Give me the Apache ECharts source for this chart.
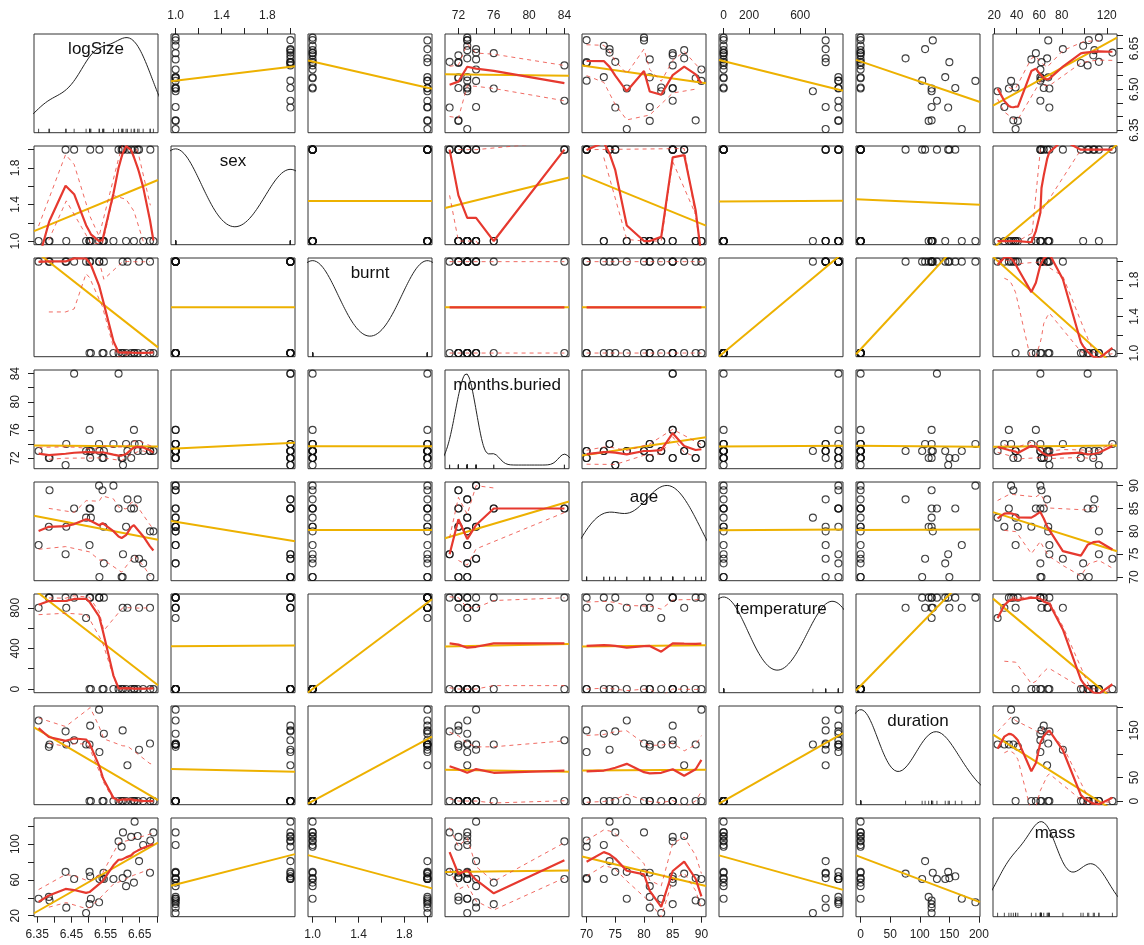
<!DOCTYPE html>
<html><head><meta charset="utf-8">
<script src="https://cdn.jsdelivr.net/npm/echarts@6/dist/echarts.min.js"></script>
<style>html,body{margin:0;padding:0;background:#fff}#c{width:1144px;height:945px}</style>
</head><body><div id="c"></div>
<script>
// ---------------- DATA (32 specimens: 16 burnt / unburnt pairs) ----------------
const varNames = ['logSize','sex','burnt','months.buried','age','temperature','duration','mass'];
const logSize = [6.648,6.635, 6.614,6.644, 6.600,6.597, 6.532,6.681, 6.458,6.588, 6.505,6.625, 6.433,6.601,
                 6.493,6.507, 6.435,6.610, 6.503,6.633, 6.354,6.503, 6.680,6.690, 6.545,6.660, 6.531,6.573,
                 6.386,6.541, 6.384,6.544];
const sex = [2,2, 2,2, 2,2, 2,2, 2,2, 2,2, 2,2, 1,1, 1,1, 1,1, 1,1, 1,1, 1,1, 1,1, 1,1, 1,1];
const burnt = [2,1, 2,1, 2,1, 2,1, 2,1, 2,1, 2,1, 2,1, 2,1, 2,1, 2,1, 2,1, 2,1, 2,1, 2,1, 2,1];
const monthsBuried = [74,74, 73,73, 72,72, 73,73, 84,84, 72,72, 71,71, 73,73, 74,74, 76,76, 73,73, 73,73, 73,73, 74,74, 72,72, 72,72];
const age = [74,74, 87,87, 70,70, 70,70, 85,85, 85,85, 75,75, 83,83, 81,81, 85,85, 77,77, 80,80, 73,73, 90,90, 89,89, 81,81];
const temperature = [800,0, 800,0, 800,0, 900,0, 900,0, 900,0, 900,0, 700,0, 800,0, 900,0, 800,0, 800,0, 900,0, 900,0, 900,0, 900,0];
const duration = [109,0, 76,0, 150,0, 104,0, 129,0, 160,0, 148,0, 120,0, 120,0, 120,0, 171,0, 122,0, 143,0, 194,0, 120,0, 115,0];
const mass = [81,125, 67,109, 62,97, 61,104, 61,103, 64,108, 69,113, 23,39, 29,53, 33,57, 39,69, 68,113, 61,99, 35,61, 37,62, 41,68];

// tick positions and labelled values
const logSizeTicks = [6.35,6.40,6.45,6.50,6.55,6.60,6.65,6.70];
const binTicks = [1.0,1.2,1.4,1.6,1.8,2.0];
const monthsTicks = [72,74,76,78,80,82,84];
const ageTicks = [70,75,80,85,90];
const temperatureTicks = [0,200,400,600,800];
const durationTicks = [0,50,100,150,200];
const massTicks = [20,40,60,80,100,120];
const horizLabels = [[6.35,6.45,6.55,6.65],[1.0,1.4,1.8],[1.0,1.4,1.8],[72,76,80,84],[70,75,80,85,90],[0,200,600],[0,50,100,150,200],[20,40,60,80,120]];
const vertLabels  = [[6.35,6.50,6.65],[1.0,1.4,1.8],[1.0,1.4,1.8],[72,76,80,84],[70,75,80,85,90],[0,400,800],[0,50,150],[20,60,100]];

// ---------------- helpers ----------------
const vars = [logSize, sex, burnt, monthsBuried, age, temperature, duration, mass];
const tickVals = [logSizeTicks, binTicks, binTicks, monthsTicks, ageTicks, temperatureTicks, durationTicks, massTicks];
const decimals = [2,1,1,0,0,0,0,0];
const smoothCols = [0,3,4,7];   // columns where the loess smoother could be fitted
const FONT = '"Liberation Sans", Arial, Helvetica, sans-serif';
const YEL = '#EDB100', RED = '#E6392F', REDL = 'rgba(236,70,60,0.8)';
const L0 = 34, DX = 137, W = 124, T0 = 34, DY = 112, H = 98.7;

const rng = vars.map(v => { const lo = Math.min(...v), hi = Math.max(...v), p = (hi - lo) * 0.04; return [lo - p, hi + p]; });
const fmt = (vi, val) => decimals[vi] > 0 ? Number(val).toFixed(decimals[vi]) : String(Math.round(val));

function quantile7(s, p) { const h = (s.length - 1) * p, lo = Math.floor(h); return s[lo] + (h - lo) * ((s[Math.min(lo + 1, s.length - 1)]) - s[lo]); }
function kdeLine(v) {
  const n = v.length, m = v.reduce((a, b) => a + b, 0) / n;
  const sd = Math.sqrt(v.reduce((a, b) => a + (b - m) * (b - m), 0) / (n - 1));
  const s = v.slice().sort((a, b) => a - b);
  let lo = Math.min(sd, (quantile7(s, 0.75) - quantile7(s, 0.25)) / 1.34);
  if (!lo) lo = sd || Math.abs(s[0]) || 1;
  const bw = 0.9 * lo * Math.pow(n, -0.2);
  const a = s[0] - 3 * bw, b = s[n - 1] + 3 * bw, pts = [];
  for (let k = 0; k < 512; k++) {
    const g = a + (b - a) * k / 511; let d = 0;
    for (const x of v) { const z = (g - x) / bw; d += Math.exp(-0.5 * z * z); }
    pts.push([g, d / (n * bw * Math.sqrt(2 * Math.PI))]);
  }
  const ds = pts.map(p => p[1]), dmin = Math.min(...ds), dmax = Math.max(...ds);
  const xr = s[n - 1] - s[0];
  return pts.map(p => [p[0], s[0] + p[1] * xr / (dmax - dmin)]);
}
function solve3(A, b) {
  const M = A.map((row, i) => row.concat([b[i]]));
  for (let i = 0; i < 3; i++) {
    let p = i; for (let k = i + 1; k < 3; k++) if (Math.abs(M[k][i]) > Math.abs(M[p][i])) p = k;
    [M[i], M[p]] = [M[p], M[i]];
    if (Math.abs(M[i][i]) < 1e-10) return null;
    for (let k = i + 1; k < 3; k++) { const f = M[k][i] / M[i][i]; for (let j = i; j < 4; j++) M[k][j] -= f * M[i][j]; }
  }
  const x = [0, 0, 0];
  for (let i = 2; i >= 0; i--) { let s = M[i][3]; for (let j = i + 1; j < 3; j++) s -= M[i][j] * x[j]; x[i] = s / M[i][i]; }
  return x;
}
// local weighted polynomial fit at x0: returns value and slope
function localFit(xs, ys, rw, span, degree, x0) {
  const n = xs.length, q = Math.max(1, Math.min(n, Math.floor(n * span)));
  const d = xs.map(x => Math.abs(x - x0)), s = d.slice().sort((a, b) => a - b);
  let h = s[q - 1]; if (!(h > 0)) h = 1e-9;
  let S0 = 0, S1 = 0, S2 = 0, S3 = 0, S4 = 0, T0y = 0, T1 = 0, T2 = 0;
  for (let i = 0; i < n; i++) {
    const r = d[i] / h; if (r >= 0.999) continue;
    const w = Math.pow(1 - r * r * r, 3) * rw[i]; if (w <= 0) continue;
    const dx = (xs[i] - x0) / h, y = ys[i];
    S0 += w; S1 += w * dx; S2 += w * dx * dx; S3 += w * dx * dx * dx; S4 += w * dx * dx * dx * dx;
    T0y += w * y; T1 += w * dx * y; T2 += w * dx * dx * y;
  }
  if (S0 <= 0) return { v: NaN, s: 0 };
  if (degree >= 2) {
    const sol = solve3([[S0, S1, S2], [S1, S2, S3], [S2, S3, S4]], [T0y, T1, T2]);
    if (sol && isFinite(sol[0])) return { v: sol[0], s: sol[1] / h };
  }
  if (degree >= 1) {
    const det = S0 * S2 - S1 * S1;
    if (Math.abs(det) > 1e-9 * S0 * S0) return { v: (S2 * T0y - S1 * T1) / det, s: (S0 * T1 - S1 * T0y) / det / h };
  }
  return { v: T0y / S0, s: 0 };
}
// kd-tree vertices (1-D) as used by loess' interpolation surface
function kdVertices(xs, span) {
  const s = xs.slice().sort((a, b) => a - b), n = s.length, fc = Math.floor(n * span * 0.2);
  const lo = s[0], hi = s[n - 1];
  const mu = 0.005 * Math.max(hi - lo, 1e-10 * Math.max(Math.abs(lo), Math.abs(hi)) + 1e-30);
  const verts = [lo - mu, hi + mu];
  const rec = (l, u, vlo, vhi) => {
    if (u - l + 1 <= fc) return;
    let m = Math.floor((l + u) / 2), off = 0;
    while (m + off < u && m + off >= l) {
      if (s[m + off] === s[m + off + 1]) { off = -off; if (off >= 0) off += 1; }
      else { m = m + off; break; }
    }
    const xi = s[m];
    if (xi === vlo || xi === vhi) return;
    verts.push(xi);
    rec(l, m, vlo, xi); rec(m + 1, u, xi, vhi);
  };
  rec(0, n - 1, verts[0], verts[1]);
  return verts.sort((a, b) => a - b);
}
function hermite(verts, vf, x) {
  const k = verts.length;
  if (x < verts[0] || x > verts[k - 1]) return NaN;
  let j = 0; while (j < k - 2 && x > verts[j + 1]) j++;
  const x0 = verts[j], x1 = verts[j + 1], hh = x1 - x0, t = (x - x0) / hh;
  const f0 = vf[j].v, f1 = vf[j + 1].v, d0 = vf[j].s, d1 = vf[j + 1].s;
  return (1 - t) * (1 - t) * (1 + 2 * t) * f0 + t * t * (3 - 2 * t) * f1 + (t * (1 - t) * (1 - t) * d0 - t * t * (1 - t) * d1) * hh;
}
function median(a) { const s = a.slice().sort((x, y) => x - y), n = s.length; return n % 2 ? s[(n - 1) / 2] : (s[n / 2 - 1] + s[n / 2]) / 2; }
function loess(xs, ys, span, degree, iters) {
  const verts = kdVertices(xs, span);
  let rw = xs.map(() => 1), fitted = null;
  for (let it = 0; it < iters; it++) {
    const vf = verts.map(v => localFit(xs, ys, rw, span, degree, v));
    fitted = xs.map(x => hermite(verts, vf, x));
    if (it === iters - 1) break;
    const res = ys.map((y, i) => Math.abs(y - fitted[i])), c = 6 * median(res);
    rw = c < 1e-300 ? res.map(() => 1) : res.map(u => u > 0.999 * c ? 0 : (u > 0.001 * c ? Math.pow(1 - (u / c) * (u / c), 2) : 1));
  }
  return fitted;
}
function sortedLine(xs, ys) {
  const idx = xs.map((x, i) => i).sort((a, b) => xs[a] - xs[b]);
  const out = []; idx.forEach(i => { if (isFinite(ys[i])) out.push([xs[i], ys[i]]); });
  return out;
}

// ---------------- build option ----------------
const grids = [], xAxes = [], yAxes = [], series = [], graphics = [];
function axisDef(g, vi, isX, show, pos) {
  return {
    gridIndex: g, type: 'value', position: pos, min: rng[vi][0], max: rng[vi][1],
    axisLine: { show: false, onZero: false }, splitLine: { show: false },
    axisTick: { show: show, inside: false, length: 6, customValues: tickVals[vi], lineStyle: { color: '#222', width: 1 } },
    axisLabel: { show: show, customValues: (isX ? horizLabels : vertLabels)[vi], formatter: val => fmt(vi, val),
      margin: 12, rotate: isX ? 0 : 90, fontSize: 12, color: '#222', fontFamily: FONT }
  };
}
for (let r = 0; r < 8; r++) for (let c = 0; c < 8; c++) {
  const g = r * 8 + c;
  grids.push({ left: L0 + DX * c, top: T0 + DY * r, width: W, height: H, show: true, borderColor: '#333', borderWidth: 1,
    backgroundColor: 'transparent', containLabel: false, outerBoundsMode: 'none' });
  const showX = (c % 2 === 0 && r === 7) || (c % 2 === 1 && r === 0);
  const showY = (r % 2 === 1 && c === 0) || (r % 2 === 0 && c === 7);
  xAxes.push(axisDef(g, c, true, showX, c % 2 === 0 ? 'bottom' : 'top'));
  yAxes.push(axisDef(g, r, false, showY, r % 2 === 1 ? 'left' : 'right'));
  const xv = vars[c], yv = vars[r];
  if (r === c) {
    series.push({ type: 'line', xAxisIndex: g, yAxisIndex: g, data: kdeLine(xv), showSymbol: false, clip: true, silent: true,
      lineStyle: { color: '#222', width: 1 }, z: 3 });
    series.push({ type: 'scatter', xAxisIndex: g, yAxisIndex: g, data: xv.map(x => [x, rng[r][0]]), symbol: 'rect',
      symbolSize: [1, 4], symbolOffset: [0, -2], itemStyle: { color: '#222' }, silent: true, z: 3 });
    graphics.push({ type: 'text', x: L0 + DX * c + W / 2, y: T0 + DY * r + 15, z: 100,
      style: { text: varNames[c], align: 'center', verticalAlign: 'middle', fontSize: 17, fontFamily: FONT, fill: '#111' } });
    continue;
  }
  series.push({ type: 'scatter', xAxisIndex: g, yAxisIndex: g, data: xv.map((x, i) => [x, yv[i]]), symbol: 'circle', symbolSize: 7,
    itemStyle: { color: 'rgba(0,0,0,0)', borderColor: '#111', borderWidth: 1.1 }, silent: true, z: 2 });
  // least-squares line
  const n = xv.length, mx = xv.reduce((a, b) => a + b, 0) / n, my = yv.reduce((a, b) => a + b, 0) / n;
  let sxy = 0, sxx = 0; for (let i = 0; i < n; i++) { sxy += (xv[i] - mx) * (yv[i] - my); sxx += (xv[i] - mx) * (xv[i] - mx); }
  const b = sxy / sxx, a = my - b * mx;
  series.push({ type: 'line', xAxisIndex: g, yAxisIndex: g, data: [[rng[c][0], a + b * rng[c][0]], [rng[c][1], a + b * rng[c][1]]],
    showSymbol: false, clip: true, silent: true, lineStyle: { color: YEL, width: 2 }, z: 3 });
  // robust loess smoother (span 0.5) with positive / negative spread curves
  if (smoothCols.includes(c)) {
    const fitted = loess(xv, yv, 0.5, 2, 4);
    series.push({ type: 'line', xAxisIndex: g, yAxisIndex: g, data: sortedLine(xv, fitted), showSymbol: false, clip: true,
      silent: true, lineStyle: { color: RED, width: 2.2 }, z: 5 });
    const res = yv.map((y, i) => y - fitted[i]);
    [true, false].forEach(up => {
      const ids = []; for (let i = 0; i < n; i++) if ((res[i] > 0) === up) ids.push(i);
      if (ids.length < 3) return;
      const sx = ids.map(i => xv[i]), sf = loess(sx, ids.map(i => res[i] * res[i]), 0.5, 0, 4);
      const sy = ids.map((i, k) => fitted[i] + (up ? 1 : -1) * Math.sqrt(Math.max(0, sf[k])));
      series.push({ type: 'line', xAxisIndex: g, yAxisIndex: g, data: sortedLine(sx, sy), showSymbol: false, clip: true,
        silent: true, lineStyle: { color: REDL, width: 1, type: [4, 4] }, z: 4 });
    });
  }
}
const chart = echarts.init(document.getElementById('c'), null, { renderer: 'canvas', width: 1144, height: 945 });
chart.setOption({ animation: false, backgroundColor: '#fff', grid: grids, xAxis: xAxes, yAxis: yAxes, series: series, graphic: graphics });
</script></body></html>
